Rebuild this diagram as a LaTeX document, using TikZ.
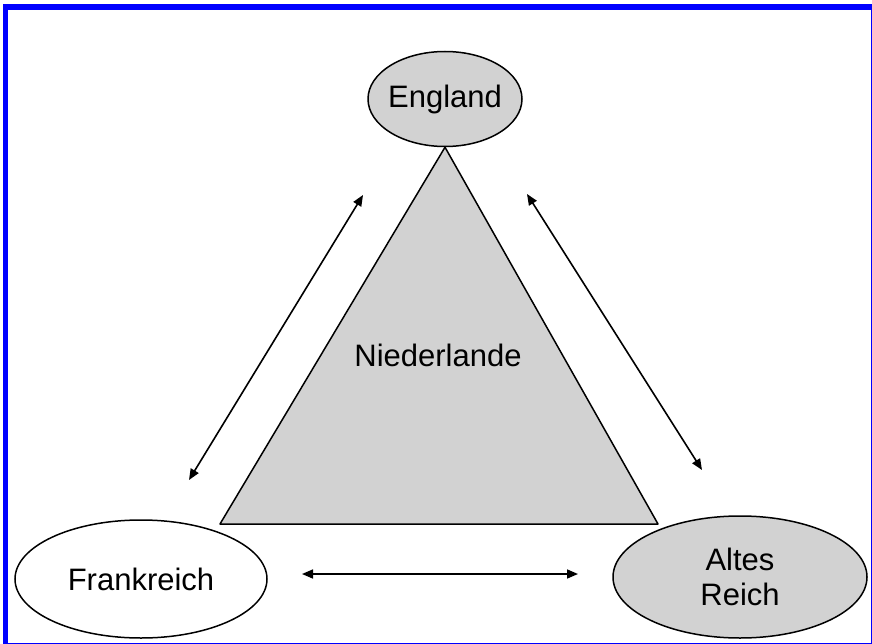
\documentclass[tikz,border=0pt]{standalone}
\usepackage{fontspec}
\setmainfont{Liberation Sans}
\usetikzlibrary{arrows.meta,shapes.geometric,positioning}

\begin{document}
\begin{tikzpicture}[x=1pt,y=-1pt,>={Triangle[length=11pt,width=9pt]},
                    font=\fontsize{31}{35}\selectfont]
  \tikzstyle{land}=[ellipse,draw,line width=1.5pt,fill=gray!35,
                    inner xsep=-4pt,inner ysep=0pt,align=center]
  \tikzstyle{link}=[<->,line width=1.6pt]

  \useasboundingbox (0,0) rectangle (872,644);
  \draw[blue,line width=5.5pt] (5.5,7) rectangle (874,646);

  \node[land,minimum width=154pt,minimum height=95pt]           (E) at (445,99)  {England};
  \node[land,fill=white,minimum width=252pt,minimum height=118pt] (F) at (141,579) {Frankreich};
  \node[land,minimum width=254pt,minimum height=122pt]          (R) at (740,577) {Altes\\Reich};

  \coordinate (T1) at (E.south);
  \coordinate (T2) at (220,524);
  \coordinate (T3) at (658,524);
  \filldraw[fill=gray!35,line width=1.5pt,line join=round] (T1) -- (T2) -- (T3) -- cycle;
  \node (N) at (438,355) {Niederlande};

  \coordinate (a1) at (189,480);
  \coordinate (a2) at (363,195);
  \coordinate (b1) at (527,194);
  \coordinate (b2) at (702,470);
  \coordinate (c1) at (302,574);
  \coordinate (c2) at (578,574);

  \draw[link] (a1) -- (a2);
  \draw[link] (b1) -- (b2);
  \draw[link] (c1) -- (c2);
\end{tikzpicture}
\end{document}
